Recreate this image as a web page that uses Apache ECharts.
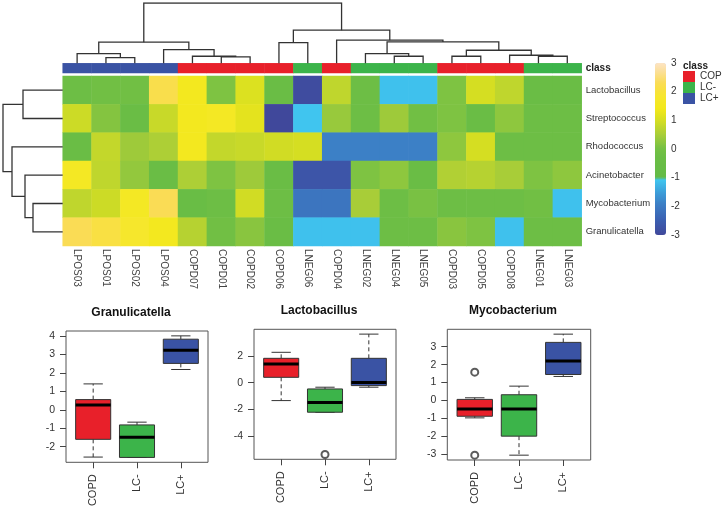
<!DOCTYPE html>
<html><head><meta charset="utf-8">
<script src="https://cdn.jsdelivr.net/npm/echarts@6/dist/echarts.min.js"></script>
<style>html,body{margin:0;padding:0;background:#fff}#c{width:722px;height:507px}</style>
</head><body><div id="c"></div>
<script>
// ---------- heatmap data ----------
const samples = ['LPOS03','LPOS01','LPOS02','LPOS04','COPD07','COPD01','COPD02','COPD06','LNEG06','COPD04','LNEG02','LNEG04','LNEG05','COPD03','COPD05','COPD08','LNEG01','LNEG03'];
const genera = ['Lactobacillus','Streptococcus','Rhodococcus','Acinetobacter','Mycobacterium','Granulicatella'];
const classes = ['COPD','LC-','LC+'];
const sampleClass = ['LC+','LC+','LC+','LC+','COPD','COPD','COPD','COPD','LC-','COPD','LC-','LC-','LC-','COPD','COPD','COPD','LC-','LC-'];
const rowLactobacillus  = [-0.2,-0.1,-0.1, 2.2, 1.5, 0.1, 1.1,-0.3,-2.9, 0.75,-0.2,-1.12,-1.12, 0.1, 1.0, 0.75,-0.3,-0.3];
const rowStreptococcus  = [ 0.9, 0.15,-0.3, 0.85, 1.5, 1.6, 1.2,-3.0,-1.08, 0.35,-0.2, 0.4,-0.1, 0.1,-0.3, 0.25,-0.2,-0.2];
const rowRhodococcus    = [-0.3, 0.8, 0.4, 0.55, 1.5, 0.8, 0.85, 0.95, 1.0,-1.9,-1.9,-1.9,-1.9, 0.25, 1.0,-0.2,-0.2,-0.2];
const rowAcinetobacter  = [ 1.6, 0.75, 0.3,-0.3, 0.55, 0.1, 0.4,-0.3,-2.7,-2.7, 0.1, 0.25,-0.3, 0.6, 0.65, 0.5, 0.1, 0.25];
const rowMycobacterium  = [ 0.75, 0.9, 1.6, 2.3,-0.4,-0.2, 0.95,-0.2,-2.1,-2.1, 0.5,-0.2, 0.05,-0.2,-0.2,-0.2,-0.1,-1.12];
const rowGranulicatella = [ 2.3, 2.1, 1.8, 1.5, 0.65,-0.1, 0.2,-0.3,-1.12,-1.12,-1.12,-0.2,-0.2, 0.2, 0.1,-1.12,-0.2,-0.2];
const heatRows = [rowLactobacillus,rowStreptococcus,rowRhodococcus,rowAcinetobacter,rowMycobacterium,rowGranulicatella];
// dendrograms: [height, left, right], leaves are indices
const colTree = [60, [21, [9.7, 0, [5.7, 1, 2]], [13.7, 3, [7, 4, [6.3, 5, 6]]]],
                     [33, [20.5, 7, 8], [23, 9, [21.3, [9.7, 10, [7, 11, 12]], [13, [7, 13, 14], [8, 15, [7, 16, 17]]]]]]];
const rowTree = [59.7, [39.7, 0, 1], [50.7, 2, [37.7, 3, [29.7, 4, 5]]]];

// ---------- boxplot data: [min, Q1, median, Q3, max] per group ----------
const boxGroups = ['COPD','LC-','LC+'];
const granulicatellaStats = [[-2.56,-1.6,0.26,0.55,1.4],[-2.58,-2.58,-1.49,-0.82,-0.67],[2.18,2.51,3.22,3.82,4.0]];
const granulicatellaOut = [[],[],[]];
const granulicatellaTicks = [-2,-1,0,1,2,3,4];
const lactobacillusStats = [[-1.34,0.4,1.4,1.82,2.27],[-2.21,-2.21,-1.49,-0.47,-0.34],[-0.34,-0.22,0.02,1.82,3.63]];
const lactobacillusOut = [[],[-5.37],[]];
const lactobacillusTicks = [-4,-2,0,2];
const mycobacteriumStats = [[-0.97,-0.88,-0.47,0.06,0.15],[-3.05,-1.99,-0.48,0.32,0.8],[1.34,1.45,2.2,3.24,3.7]];
const mycobacteriumOut = [[1.58,-3.05],[],[]];
const mycobacteriumTicks = [-3,-2,-1,0,1,2,3];

// ---------- styling ----------
const classColors = {'COPD':'#e8202a','LC-':'#3cb44a','LC+':'#3a53a4'};
const FONT = '"Liberation Sans", Arial, sans-serif';
const rampAnchors = [[-3,'#40489b'],[-2.5,'#3b5eb0'],[-1.9,'#3c80c6'],[-1.5,'#3c9fda'],[-1.06,'#40c7f0'],[-1.0,'#63bb46'],
  [-0.3,'#6abd45'],[0,'#74c044'],[0.5,'#a8cd38'],[1,'#d5de22'],[1.4,'#f2e81b'],[1.8,'#f6e72c'],[2.0,'#f8e23a'],[2.3,'#fadc55'],[2.7,'#fbdf98'],[3,'#fde4c4']];
function hex2rgb(h){return [1,3,5].map(i=>parseInt(h.substr(i,2),16));}
function rampColor(v){
  for(let i=0;i<rampAnchors.length-1;i++){
    const [a,ca]=rampAnchors[i],[b,cb]=rampAnchors[i+1];
    if(v<=b+1e-9){const t=Math.max(0,Math.min(1,(v-a)/(b-a)));const A=hex2rgb(ca),B=hex2rgb(cb);
      return 'rgb('+A.map((x,k)=>Math.round(x+(B[k]-x)*t)).join(',')+')';}
  }
  return rampAnchors[rampAnchors.length-1][1];
}
const rampColors=[];for(let k=0;k<=240;k++)rampColors.push(rampColor(-3+k*0.025));

function dendroSegs(node, segs, orient){
  if(typeof node==='number') return {p:node,h:0};
  const a=dendroSegs(node[1],segs,orient), b=dendroSegs(node[2],segs,orient), h=node[0];
  const pt=(p,hh)=>orient==='col'?[p,hh]:[hh,p];
  segs.push({coords:[pt(a.p,a.h),pt(a.p,h),pt(b.p,h),pt(b.p,b.h)]});
  return {p:(a.p+b.p)/2,h:h};
}
const colSegs=[];dendroSegs(colTree,colSegs,'col');
const rowSegs=[];dendroSegs(rowTree,rowSegs,'row');

const heatData=[];heatRows.forEach((r,ri)=>r.forEach((v,ci)=>heatData.push([ci,ri,v])));
const classData=sampleClass.map((c,i)=>[i,0,classes.indexOf(c)]);

const chart=echarts.init(document.getElementById('c'),null,{renderer:'canvas'});
const grids=[], xAxes=[], yAxes=[], series=[];
function addGrid(g){g.outerBoundsMode='none';g.containLabel=false;grids.push(g);return grids.length-1;}

// 0 heatmap
let gi=addGrid({left:62.7,top:76,width:519,height:170});
xAxes.push({gridIndex:gi,type:'category',data:samples,position:'bottom',axisLine:{show:false,onZero:false},axisTick:{show:false},splitLine:{show:false},
  axisLabel:{rotate:-90,interval:0,margin:3,fontSize:10,color:'#444',fontFamily:FONT}});
yAxes.push({gridIndex:gi,type:'category',data:genera,inverse:true,position:'right',axisLine:{show:false,onZero:false},axisTick:{show:false},splitLine:{show:false},
  axisLabel:{interval:0,margin:4,fontSize:9.5,color:'#333',fontFamily:FONT}});
series.push({type:'heatmap',xAxisIndex:gi,yAxisIndex:gi,data:heatData,itemStyle:{borderWidth:0},progressive:0,silent:true});
// 1 class bar
gi=addGrid({left:62.7,top:63.3,width:519,height:9.7});
xAxes.push({gridIndex:gi,type:'category',data:samples,show:false});
yAxes.push({gridIndex:gi,type:'category',data:['class'],position:'right',axisLine:{show:false,onZero:false},axisTick:{show:false},
  axisLabel:{margin:4,fontSize:10,fontWeight:'bold',color:'#222',fontFamily:FONT}});
series.push({type:'heatmap',xAxisIndex:gi,yAxisIndex:gi,data:classData,itemStyle:{borderWidth:0},silent:true});
// 2 column dendrogram
gi=addGrid({left:62.7,top:3,width:519,height:60.3});
xAxes.push({gridIndex:gi,type:'value',min:-0.5,max:samples.length-0.5,show:false});
yAxes.push({gridIndex:gi,type:'value',min:0,max:60,show:false});
series.push({type:'lines',coordinateSystem:'cartesian2d',xAxisIndex:gi,yAxisIndex:gi,polyline:true,data:colSegs,silent:true,
  lineStyle:{color:'#333',width:1.3,opacity:1}});
// 3 row dendrogram
gi=addGrid({left:2.7,top:76,width:60,height:170});
xAxes.push({gridIndex:gi,type:'value',min:0,max:60,inverse:true,show:false});
yAxes.push({gridIndex:gi,type:'value',min:-0.5,max:genera.length-0.5,inverse:true,show:false});
series.push({type:'lines',coordinateSystem:'cartesian2d',xAxisIndex:gi,yAxisIndex:gi,polyline:true,data:rowSegs,silent:true,
  lineStyle:{color:'#333',width:1.3,opacity:1}});
// 4 colorbar axis
gi=addGrid({left:655,top:63,width:11,height:172});
xAxes.push({gridIndex:gi,type:'value',show:false,min:0,max:1});
yAxes.push({gridIndex:gi,type:'value',min:-3,max:3,interval:1,position:'right',axisLine:{show:false,onZero:false},axisTick:{show:false},splitLine:{show:false},
  axisLabel:{margin:5,fontSize:10,color:'#333',fontFamily:FONT}});

// boxplots
function addBox(left,top,width,height,stats,outs,ticks){
  const g=addGrid({left,top,width,height,show:true,borderColor:'#555',borderWidth:1});
  const all=[];stats.forEach(s=>all.push(...s));outs.forEach(o=>all.push(...o));
  const dmin=Math.min(...all),dmax=Math.max(...all),r=dmax-dmin;
  const n=boxGroups.length;
  xAxes.push({gridIndex:g,type:'value',min:0.5-0.04*n,max:n+0.5+0.04*n,position:'bottom',axisLine:{show:false,onZero:false},splitLine:{show:false},
    axisTick:{show:true,length:6,customValues:boxGroups.map((_,i)=>i+1),lineStyle:{color:'#444'}},
    axisLabel:{customValues:boxGroups.map((_,i)=>i+1),formatter:v=>boxGroups[Math.round(v)-1]||'',rotate:90,margin:12,fontSize:11,color:'#333',fontFamily:FONT}});
  yAxes.push({gridIndex:g,type:'value',min:dmin-0.04*r,max:dmax+0.04*r,position:'left',axisLine:{show:false,onZero:false},splitLine:{show:false},
    axisTick:{show:true,length:6,customValues:ticks,lineStyle:{color:'#444'}},
    axisLabel:{customValues:ticks,margin:11,fontSize:10.5,color:'#333',fontFamily:FONT}});
  series.push({type:'custom',xAxisIndex:g,yAxisIndex:g,silent:true,
    data:stats.map((s,i)=>[i+1,...s]),encode:{x:0,y:[1,2,3,4,5]},
    renderItem:function(params,api){
      const x=api.value(0);
      const pLo=api.coord([x,api.value(1)]),pQ1=api.coord([x,api.value(2)]),pMed=api.coord([x,api.value(3)]),
            pQ3=api.coord([x,api.value(4)]),pHi=api.coord([x,api.value(5)]);
      const unit=api.size([1,0])[0];const hw=unit*0.4,cw=unit*0.22;const cx=pMed[0];
      const col=classColors[boxGroups[params.dataIndex]];
      const ls={stroke:'#333',lineWidth:1};
      return {type:'group',children:[
        {type:'line',shape:{x1:cx,y1:pQ3[1],x2:cx,y2:pHi[1]},style:Object.assign({lineDash:[4,3]},ls)},
        {type:'line',shape:{x1:cx,y1:pQ1[1],x2:cx,y2:pLo[1]},style:Object.assign({lineDash:[4,3]},ls)},
        {type:'line',shape:{x1:cx-cw,y1:pHi[1],x2:cx+cw,y2:pHi[1]},style:ls},
        {type:'line',shape:{x1:cx-cw,y1:pLo[1],x2:cx+cw,y2:pLo[1]},style:ls},
        {type:'rect',shape:{x:cx-hw,y:pQ3[1],width:2*hw,height:pQ1[1]-pQ3[1]},style:{fill:col,stroke:'#333',lineWidth:1}},
        {type:'line',shape:{x1:cx-hw,y1:pMed[1],x2:cx+hw,y2:pMed[1]},style:{stroke:'#000',lineWidth:3}}
      ]};
    }});
  const od=[];outs.forEach((o,i)=>o.forEach(v=>od.push([i+1,v])));
  series.push({type:'scatter',xAxisIndex:g,yAxisIndex:g,data:od,symbol:'emptyCircle',symbolSize:7,silent:true,
    itemStyle:{color:'#333',borderWidth:1}});
}
addBox(66,331,142,131.3,granulicatellaStats,granulicatellaOut,granulicatellaTicks);
addBox(254,329.3,142,130,lactobacillusStats,lactobacillusOut,lactobacillusTicks);
addBox(447.3,329.3,143.4,130.7,mycobacteriumStats,mycobacteriumOut,mycobacteriumTicks);

const titleStyle=(t)=>({text:t,font:'bold 12px '+FONT,fill:'#111',align:'center',verticalAlign:'middle',textAlign:'center',textVerticalAlign:'middle'});
chart.setOption({
  animation:false,
  backgroundColor:'#fff',
  grid:grids,xAxis:xAxes,yAxis:yAxes,series:series,
  visualMap:[
    {type:'continuous',seriesIndex:0,dimension:2,min:-3,max:3,left:655,top:63,itemWidth:11,itemHeight:172,padding:0,
      calculable:false,inRange:{color:rampColors},text:null,hoverLink:false},
    {type:'piecewise',seriesIndex:1,dimension:2,inverse:true,orient:'vertical',align:'left',left:683,top:71,itemWidth:12,itemHeight:11,itemGap:0,
      itemSymbol:'rect',textGap:5,padding:0,hoverLink:false,
      pieces:classes.map((c,i)=>({value:i,label:c,color:classColors[c]})),
      textStyle:{fontSize:10,color:'#333',fontFamily:FONT}}
  ],
  graphic:[
    {type:'text',x:683,y:66,style:{text:'class',font:'bold 10px '+FONT,fill:'#222',verticalAlign:'middle',textVerticalAlign:'middle'}},
    {type:'text',x:131,y:313,style:titleStyle('Granulicatella')},
    {type:'text',x:319,y:311,style:titleStyle('Lactobacillus')},
    {type:'text',x:513,y:311,style:titleStyle('Mycobacterium')}
  ]
});
</script></body></html>
